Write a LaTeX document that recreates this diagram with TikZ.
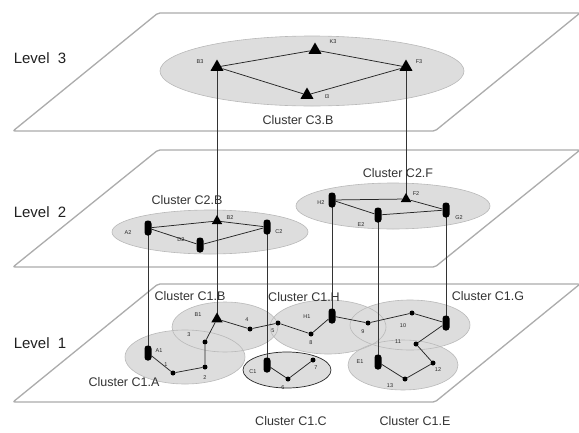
\documentclass[tikz,border=0pt]{standalone}
\usepackage{fontspec}
\setmainfont{Liberation Sans}
\usetikzlibrary{shapes.geometric}
\pgfdeclarelayer{bg}
\pgfdeclarelayer{mid}
\pgfsetlayers{bg,mid,main}
\tikzset{
  plane/.style={draw=gray!65, line width=1.3pt, rounded corners=2pt},
  clfill/.style={fill=gray!27},
  clline/.style={draw=gray!55, line width=0.6pt},
  cldark/.style={draw=gray!30!black, line width=0.7pt},
  trithree/.style={regular polygon, regular polygon sides=3, fill=black, inner sep=0pt, minimum size=15pt},
  tritwo/.style={regular polygon, regular polygon sides=3, fill=black, inner sep=0pt, minimum size=12pt},
  trione/.style={regular polygon, regular polygon sides=3, fill=black, inner sep=0pt, minimum size=13pt},
  cyl/.style={rectangle, rounded corners=3pt, fill=black, minimum width=7pt, minimum height=15pt, inner sep=0pt},
  dot/.style={circle, fill=black, inner sep=0pt, minimum size=5pt},
  lab/.style={font=\fontsize{5.5}{6}\selectfont, text=gray!30!black, inner sep=0pt},
  clab/.style={font=\fontsize{12.5}{14}\selectfont, text=gray!40!black, inner sep=0pt},
  lvl/.style={font=\fontsize{15}{17}\selectfont, text=gray!25!black, inner sep=0pt},
  vline/.style={draw=gray!40!black, line width=0.5pt},
  edge/.style={draw=black!85, line width=0.75pt}
}
\begin{document}
\begin{tikzpicture}[x=1pt,y=-1pt]
\begin{pgfonlayer}{bg}
\useasboundingbox[fill=white] (0,0) rectangle (579,432);
% planes
\draw[plane] (13,131) -- (435,131) -- (580,13) -- (158,13) -- cycle;
\draw[plane] (13,267) -- (435,267) -- (580,150) -- (158,150) -- cycle;
\draw[plane] (13,402) -- (435,402) -- (580,284) -- (158,284) -- cycle;
% cluster ellipses: fills
\fill[clfill] (312,71) ellipse [x radius=152, y radius=35];
\fill[clfill] (210,232) ellipse [x radius=98, y radius=22];
\fill[clfill] (393,206) ellipse [x radius=97, y radius=23];
\fill[clfill] (185,357) ellipse [x radius=60, y radius=27];
\fill[clfill] (225,327) ellipse [x radius=53, y radius=25];
\fill[clfill] (328,327) ellipse [x radius=58, y radius=27];
\fill[clfill] (410,325) ellipse [x radius=60, y radius=25];
\fill[clfill] (403,365) ellipse [x radius=55, y radius=25];
\fill[clfill] (287,370) ellipse [x radius=44, y radius=18];
% cluster ellipses: outlines
\draw[clline] (312,71) ellipse [x radius=152, y radius=35];
\draw[clline] (210,232) ellipse [x radius=98, y radius=22];
\draw[clline] (393,206) ellipse [x radius=97, y radius=23];
\draw[clline] (185,357) ellipse [x radius=60, y radius=27];
\draw[clline] (225,327) ellipse [x radius=53, y radius=25];
\draw[clline] (328,327) ellipse [x radius=58, y radius=27];
\draw[clline] (410,325) ellipse [x radius=60, y radius=25];
\draw[clline] (403,365) ellipse [x radius=55, y radius=25];
\draw[cldark] (287,370) ellipse [x radius=44, y radius=18];
\end{pgfonlayer}
% level labels
\node[lvl] (lv3) at (40,58) {Level\hspace{0.55em}3};
\node[lvl] (lv2) at (40,212) {Level\hspace{0.55em}2};
\node[lvl] (lv1) at (40,343) {Level\hspace{0.55em}1};
% level 3 nodes
\node[trithree] (B3) at (217,67) {};
\node[trithree] (K3) at (315,50) {};
\node[trithree] (F3) at (406,67) {};
\node[trithree] (I3) at (307,95) {};
% level 2 nodes
\node[cyl] (A2) at (148,228) {};
\node[tritwo] (B2) at (217,221) {};
\node[cyl] (C2) at (267,227) {};
\node[cyl] (D2) at (200,245) {};
\node[cyl] (H2) at (332,200) {};
\node[tritwo] (F2) at (406,199) {};
\node[cyl] (G2) at (446,210) {};
\node[cyl] (E2) at (378,215) {};
% level 1 nodes
\node[cyl] (A1) at (148,353) {};
\node[dot] (n1) at (173,373) {};
\node[dot] (n2) at (205,367) {};
\node[dot] (n3) at (205,342) {};
\node[trione] (B1) at (217,319) {};
\node[dot] (n4) at (250,329) {};
\node[dot] (n5) at (278,323) {};
\node[dot] (n8) at (311,334) {};
\node[cyl] (H1) at (332,316) {};
\node[dot] (n9) at (368,323) {};
\node[dot] (n10) at (412,313) {};
\node[cyl] (G1) at (446,323) {};
\node[dot] (n11) at (416,344) {};
\node[dot] (n12) at (433,363) {};
\node[dot] (n13) at (405,379) {};
\node[cyl] (E1) at (378,362) {};
\node[cyl] (C1) at (267,365) {};
\node[dot] (n6) at (288,379) {};
\node[dot] (n7) at (313,360) {};
\begin{pgfonlayer}{mid}
% vertical connectors
\draw[vline] (B3.center) -- (B2.center);
\draw[vline] (B2.center) -- (B1.center);
\draw[vline] (F3.center) -- (F2.center);
\draw[vline] (A2.center) -- (A1.center);
\draw[vline] (C2.center) -- (C1.center);
\draw[vline] (H2.center) -- (H1.center);
\draw[vline] (E2.center) -- (E1.center);
\draw[vline] (G2.center) -- (G1.center);
% edges level 3
\draw[edge] (B3) -- (K3) -- (F3);
\draw[edge] (B3) -- (I3) -- (F3);
% edges level 2
\draw[edge] (A2) -- (B2) -- (C2);
\draw[edge] (A2) -- (D2) -- (C2);
\draw[edge] (H2) -- (F2) -- (G2);
\draw[edge] (H2) -- (E2) -- (G2);
% edges level 1
\draw[edge] (A1) -- (n1) -- (n2) -- (n3) -- (B1) -- (n4) -- (n5) -- (n8) -- (H1) -- (n9) -- (n10) -- (G1) -- (n11) -- (n12) -- (n13) -- (E1);
\draw[edge] (C1) -- (n6) -- (n7);
\end{pgfonlayer}
% node labels
\node[lab] (lB3) at (200,62) {B3};
\node[lab] (lK3) at (333,42) {K3};
\node[lab] (lF3) at (419,62) {F3};
\node[lab] (lI3) at (327,97) {I3};
\node[lab] (lA2) at (128,233) {A2};
\node[lab] (lB2) at (230,218) {B2};
\node[lab] (lC2) at (279,232) {C2};
\node[lab] (lD2) at (181,240) {D2};
\node[lab] (lH2) at (321,203) {H2};
\node[lab] (lF2) at (416,194) {F2};
\node[lab] (lG2) at (459,218) {G2};
\node[lab] (lE2) at (361,225) {E2};
\node[lab] (lA1) at (159,351) {A1};
\node[lab] (l1) at (166,365) {1};
\node[lab] (l2) at (205,378) {2};
\node[lab] (l3) at (189,335) {3};
\node[lab] (lB1) at (198,315) {B1};
\node[lab] (l4) at (247,320) {4};
\node[lab] (l5) at (273,331) {5};
\node[lab] (l8) at (311,343) {8};
\node[lab] (lH1) at (307,317) {H1};
\node[lab] (l9) at (363,332) {9};
\node[lab] (l10) at (403,326) {10};
\node[lab] (l11) at (398,342) {11};
\node[lab] (l12) at (438,370) {12};
\node[lab] (l13) at (390,386) {13};
\node[lab] (lE1) at (360,362) {E1};
\node[lab] (lC1) at (253,372) {C1};
\node[lab] (l6) at (283,388) {6};
\node[lab] (l7) at (316,368) {7};
% cluster labels
\node[clab] (cC3B) at (298,120) {Cluster C3.B};
\node[clab] (cC2B) at (187,200) {Cluster C2.B};
\node[clab] (cC2F) at (398,173) {Cluster C2.F};
\node[clab] (cC1B) at (190,296) {Cluster C1.B};
\node[clab] (cC1H) at (304,297) {Cluster C1.H};
\node[clab] (cC1G) at (488,296) {Cluster C1.G};
\node[clab] (cC1A) at (124,382) {Cluster C1.A};
\node[clab] (cC1C) at (291,421) {Cluster C1.C};
\node[clab] (cC1E) at (415,421) {Cluster C1.E};
\end{tikzpicture}
\end{document}
